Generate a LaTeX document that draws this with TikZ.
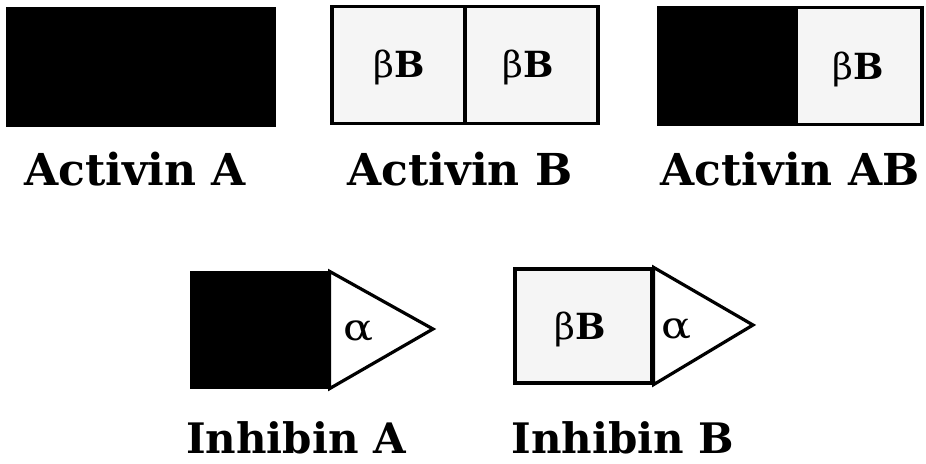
\documentclass[tikz,border=0pt]{standalone}
\usepackage{fontspec}
\setmainfont{DejaVu Serif}
\begin{document}
\begin{tikzpicture}[x=1pt,y=-1pt,
  cell/.style={draw=black, line width=3.2pt, inner sep=0pt, minimum width=#1, minimum height=117pt},
  dark/.style={cell=#1, fill=black},
  light/.style={cell=#1, fill=black!4},
  lbl/.style={anchor=base, inner sep=0pt, font=\fontsize{44}{48}\selectfont\bfseries},
  ilbl/.style={lbl, font=\fontsize{42}{46}\selectfont\bfseries},
  sub/.style={anchor=base, inner sep=0pt, font=\fontsize{36}{40}\selectfont},
  alp/.style={anchor=base, inner sep=0pt, font=\fontsize{37}{40}\selectfont},
  tip/.style={draw=black, line width=3.2pt, fill=white, line join=miter}]
\useasboundingbox (0,0) rectangle (926,463);
% Activin A
\node[dark=266pt] (aa) at (141,67) {};
\node[lbl] (laa) at (135,185) {Activin A};
% Activin B
\node[light=133pt] (ab1) at (398.5,65) {};
\node[light=133pt] (ab2) at (531.5,65) {};
\node[sub] (tb1) at (399,77) {β\textbf{B}};
\node[sub] (tb2) at (528,77) {β\textbf{B}};
\node[lbl] (lab) at (460,185) {Activin B};
% Activin AB
\node[dark=137pt] (aab1) at (727.5,66) {};
\node[light=126pt] (aab2) at (859,66) {};
\node[sub] (tab) at (858,79) {β\textbf{B}};
\node[lbl] (laab) at (790,185) {Activin AB};
% Inhibin A
\node[dark=136pt, minimum height=114pt] (ia1) at (260,330) {};
\coordinate (iatip) at (433,329);
\draw[tip] (ia1.north east) -- (iatip) -- (ia1.south east) -- cycle;
\node[alp] (ia2) at (358,340) {\scalebox{1.2}[1]{α}};
\node[ilbl] (lia) at (296,453) {Inhibin A};
% Inhibin B
\node[light=137pt, minimum height=114pt] (ib1) at (583.5,326) {};
\node[sub] (tib) at (580,339) {β\textbf{B}};
\coordinate (ibtip) at (753,325);
\draw[tip] (ib1.north east) -- (ibtip) -- (ib1.south east) -- cycle;
\node[alp] (ib2) at (676,338) {\scalebox{1.2}[1]{α}};
\node[ilbl] (lib) at (623,453) {Inhibin B};
\end{tikzpicture}
\end{document}
